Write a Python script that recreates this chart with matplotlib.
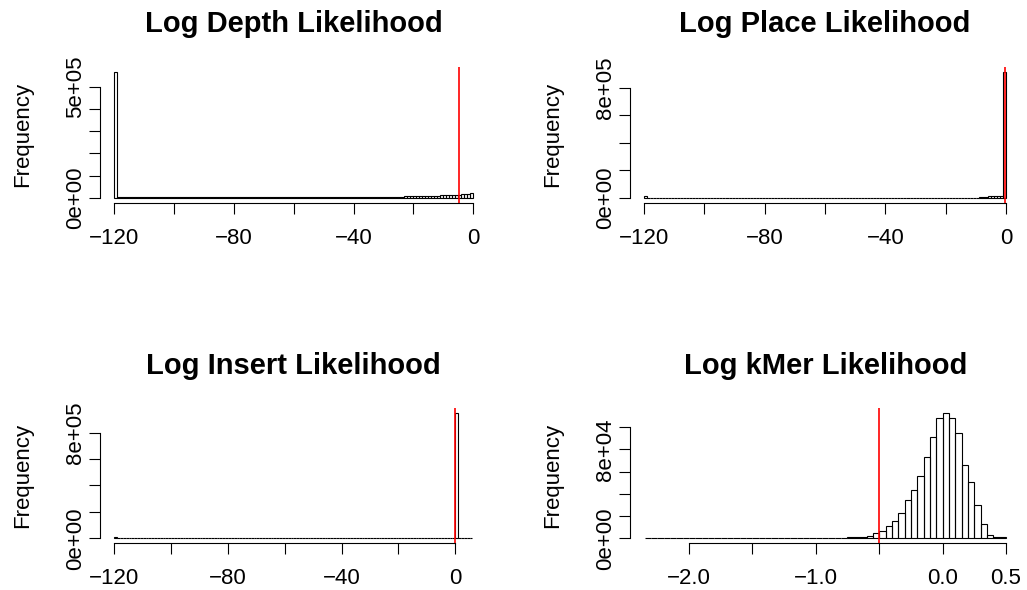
import numpy as np
import matplotlib
matplotlib.use("Agg")
import matplotlib.pyplot as plt

plt.rcParams['font.family'] = ['Liberation Sans', 'DejaVu Sans']

# ---- data (bin counts, bins of width 1 unless noted) ----
# Log Depth Likelihood: bins -120..0
depth_counts = [
    568000, 2600, 2500, 2400, 2500, 2400, 2300, 2400, 2300, 2300,
    2200, 2300, 2200, 2200, 2100, 2200, 2100, 2100, 2000, 2100,
    2000, 2000, 2100, 2000, 1900, 2000, 1900, 2000, 1900, 1900,
    1900, 1900, 1800, 1900, 1900, 1800, 1900, 1800, 1800, 1900,
    1800, 1800, 1900, 1800, 1800, 1900, 1800, 1900, 1900, 1800,
    1900, 1900, 2000, 1900, 2000, 2000, 2000, 2100, 2000, 2100,
    2100, 2100, 2200, 2200, 2200, 2300, 2300, 2400, 2400, 2500,
    2500, 2600, 2600, 2700, 2800, 2800, 2900, 3000, 3100, 3200,
    3300, 3400, 3500, 3600, 3700, 3800, 3900, 4000, 4100, 4200,
    4300, 4400, 4500, 4700, 4900, 5100, 5300, 5500, 5800, 6100,
    6400, 6700, 7000, 7400, 7800, 8200, 8700, 9200, 9800, 10400,
    10900, 11400, 11900, 12500, 13100, 13800, 14600, 15600, 17000, 19500,
]
depth_cut = -4.8

# Log Place Likelihood: bins -120..0
place_counts = [
    10000, 1200, 1100, 1000, 1000, 900, 900, 900, 800, 800,
    800, 800, 800, 700, 700, 700, 700, 700, 700, 700,
    700, 700, 700, 700, 700, 700, 700, 700, 700, 700,
    700, 700, 700, 700, 700, 700, 700, 700, 700, 700,
    700, 700, 700, 700, 700, 700, 700, 700, 700, 700,
    700, 700, 700, 700, 700, 700, 700, 700, 700, 700,
    700, 700, 700, 700, 700, 700, 700, 700, 700, 700,
    700, 700, 700, 700, 700, 700, 700, 700, 700, 700,
    700, 700, 700, 700, 700, 700, 700, 700, 700, 700,
    700, 700, 700, 700, 700, 700, 700, 700, 700, 800,
    800, 800, 800, 800, 900, 900, 900, 1000, 1000, 1100,
    1200, 1400, 1800, 6000, 9000, 10000, 11000, 12000, 14000, 915000,
]
place_cut = -0.3

# Log Insert Likelihood: bins -120..6
insert_counts = [
    13000, 900, 800, 800, 800, 700, 700, 700, 700, 700,
    700, 700, 700, 700, 700, 700, 700, 700, 700, 700,
    700, 700, 700, 700, 700, 700, 700, 700, 700, 700,
    700, 700, 700, 700, 700, 700, 700, 700, 700, 700,
    700, 700, 700, 700, 700, 700, 700, 700, 700, 700,
    700, 700, 700, 700, 700, 700, 700, 700, 700, 700,
    700, 700, 700, 700, 700, 700, 700, 700, 700, 700,
    700, 700, 700, 700, 700, 700, 700, 700, 700, 700,
    700, 700, 700, 700, 700, 700, 700, 700, 700, 700,
    700, 700, 700, 700, 700, 700, 700, 700, 700, 700,
    800, 800, 800, 800, 800, 900, 900, 900, 1000, 1000,
    1100, 1200, 1300, 1400, 1600, 1800, 2000, 2200, 2500, 3000,
    947000, 0, 0, 0, 0, 0,
]
insert_cut = 0.0

# Log kMer Likelihood: bins of 0.05 from -2.35 to 0.5
kmer_counts = [
    40, 30, 50, 40, 60, 50, 70, 80, 90, 100,
    110, 120, 130, 140, 150, 160, 170, 180, 200, 210,
    230, 250, 270, 290, 310, 330, 360, 390, 420, 460,
    520, 600, 750, 1000, 1400,
    2100, 4500, 7000, 10700, 16000, 22500, 34200, 43400, 56400, 73100,
    91500, 108200, 112600, 108500, 94800, 65900, 51000, 29800, 12600, 2800,
    1300, 1000,
]
kmer_cut = -0.5

titles = ["Log Depth Likelihood", "Log Place Likelihood",
          "Log Insert Likelihood", "Log kMer Likelihood"]

log_xticks = [-120, -100, -80, -60, -40, -20, 0]
log_xlabels = ["\u2212120", "", "\u221280", "", "\u221240", "", "0"]
kmer_xticks = [-2.0, -1.5, -1.0, -0.5, 0.0, 0.5]
kmer_xlabels = ["\u22122.0", "", "\u22121.0", "", "0.0", "0.5"]


def draw_hist(ax, edges, counts, cut, title, yticks, ylabels, xticks, xlabels):
    edges = np.asarray(edges, dtype=float)
    counts = np.asarray(counts, dtype=float)
    ax.bar(edges[:-1], counts, width=np.diff(edges), align='edge',
           fill=False, edgecolor='black', linewidth=0.8)
    ax.axvline(cut, color='#ff0000', linewidth=1.2)

    # R style extents (4% padding)
    lo, hi = edges[0], edges[-1]
    span = hi - lo
    ax.set_xlim(lo - 0.04 * span, hi + 0.04 * span)
    top = counts.max()
    ax.set_ylim(-0.04 * top, 1.04 * top)

    ax.set_xticks(xticks)
    ax.set_xticklabels(xlabels)
    ax.set_yticks(yticks)
    ax.set_yticklabels(ylabels, rotation=90, va='center')

    for side in ['top', 'right']:
        ax.spines[side].set_visible(False)
    ax.spines['left'].set_bounds(yticks[0], yticks[-1])
    ax.spines['bottom'].set_bounds(xticks[0], xticks[-1])
    for side in ['left', 'bottom']:
        ax.spines[side].set_linewidth(0.8)
    ax.tick_params(axis='x', length=8, width=0.8, pad=10, labelsize=16)
    ax.tick_params(axis='y', length=8, width=0.8, pad=2, labelsize=16)

    ax.set_ylabel("Frequency", fontsize=16, labelpad=23)
    ax.set_title(title, fontsize=21, fontweight='bold', pad=25)


fig = plt.figure(figsize=(10.27, 5.90), dpi=100)
ax1 = fig.add_axes([0.0974, 0.6564, 0.3773, 0.2305])
ax2 = fig.add_axes([0.6130, 0.6564, 0.3807, 0.2305])
ax3 = fig.add_axes([0.0974, 0.0792, 0.3765, 0.2288])
ax4 = fig.add_axes([0.6136, 0.0792, 0.3800, 0.2288])

draw_hist(ax1, np.arange(-120, 1), depth_counts, depth_cut, titles[0],
          [0, 1e5, 2e5, 3e5, 4e5, 5e5],
          ["0e+00", "", "", "", "", "5e+05"], log_xticks, log_xlabels)
draw_hist(ax2, np.arange(-120, 1), place_counts, place_cut, titles[1],
          [0, 2e5, 4e5, 6e5, 8e5],
          ["0e+00", "", "", "", "8e+05"], log_xticks, log_xlabels)
draw_hist(ax3, np.arange(-120, 7), insert_counts, insert_cut, titles[2],
          [0, 2e5, 4e5, 6e5, 8e5],
          ["0e+00", "", "", "", "8e+05"], log_xticks, log_xlabels)
draw_hist(ax4, np.round(np.arange(-2.35, 0.5001, 0.05), 2), kmer_counts, kmer_cut, titles[3],
          [0, 2e4, 4e4, 6e4, 8e4, 1e5],
          ["0e+00", "", "", "", "8e+04", ""], kmer_xticks, kmer_xlabels)

fig.savefig("out.png", dpi=100)
